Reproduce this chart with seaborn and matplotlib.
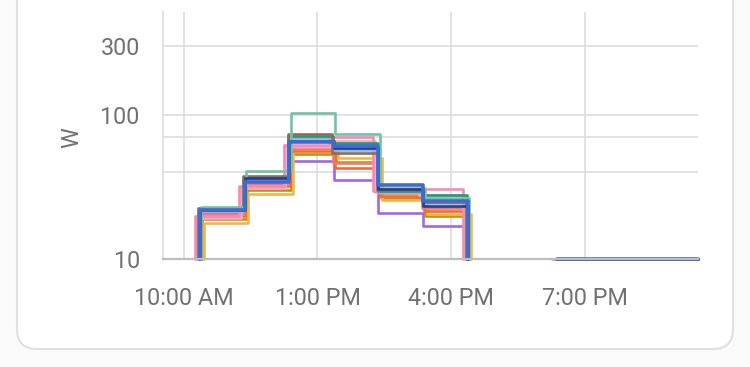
import numpy as np
import pandas as pd
import matplotlib
matplotlib.use("Agg")
import matplotlib.pyplot as plt
import seaborn as sns
from matplotlib.patches import FancyBboxPatch
from matplotlib.transforms import IdentityTransform
from matplotlib.ticker import FixedLocator, FixedFormatter, NullLocator

sns.set_theme(style="white")
plt.rcParams["font.family"] = ["Roboto", "DejaVu Sans"]

# ---------------- data ----------------
# hourly power (W) per panel, from the first daytime hour; a 0 reading after the last hour
day_hours = [10, 11, 12, 13, 14, 15, 16]
evening_hours = [18, 19, 20, 21]
window_start = 9 + 32 / 60          # 9:32 AM
window_end = 21 + 32 / 60           # 9:32 PM

series_names = ["purple", "gold", "yellow", "orange", "salmon", "light_pink", "pink",
                "light_blue", "green", "brown", "mint", "navy", "blue"]
series_colors = ["#a066e6", "#c98f0b", "#f2b44c", "#f26c32", "#f07b6b", "#f6a8c8", "#f28bb6",
                 "#8cb2ea", "#1e9e73", "#8d6e55", "#72c2a8", "#223f8e", "#3f6bd0"]
offset_minutes = [22, 25, 27, 23, 21, 17, 15, 20, 21, 20, 24, 22, 22]

purple = [21.0, 34.0, 47.5, 35.5, 20.8, 17.0, 0]
gold = [19.0, 30.0, 53.7, 47.0, 26.5, 20.0, 0]
yellow = [17.9, 28.2, 60.3, 50.1, 25.8, 20.6, 0]
orange = [20.0, 32.0, 55.7, 42.7, 27.5, 21.7, 0]
salmon = [20.5, 33.0, 58.0, 46.0, 28.7, 22.6, 0]
light_pink = [19.2, 31.0, 60.5, 66.0, 29.0, 28.0, 0]
pink = [20.0, 31.9, 62.0, 70.6, 29.5, 30.6, 0]
light_blue = [21.5, 36.0, 69.0, 57.3, 29.0, 24.5, 0]
green = [22.3, 37.0, 71.0, 63.6, 29.5, 27.9, 0]
brown = [22.5, 37.9, 73.5, 54.3, 30.2, 25.0, 0]
mint = [23.1, 40.5, 103.0, 73.5, 31.0, 26.5, 0]
navy = [21.9, 36.4, 66.0, 58.5, 30.5, 23.4, 0]
blue = [21.9, 34.5, 64.7, 60.3, 32.7, 25.1, 0]
evening_values = [0, 0, 0, 0]

series_values = [purple, gold, yellow, orange, salmon, light_pink, pink,
                 light_blue, green, brown, mint, navy, blue]

y_ticks = [10, 40, 70, 100, 300]
y_tick_labels = ["10", "", "", "100", "300"]
x_ticks = [10, 13, 16, 19]
x_tick_labels = ["10:00 AM", "1:00 PM", "4:00 PM", "7:00 PM"]
y_min, y_max = 10, 510

# ---------------- figure ----------------
W, H = 750, 367
fig = plt.figure(figsize=(W / 100, H / 100), dpi=100)
fig.patch.set_facecolor("#fafafa")
card = FancyBboxPatch((17, H - 349), 733 - 17, 400,
                      boxstyle="round,pad=0,rounding_size=20",
                      transform=IdentityTransform(), facecolor="white",
                      edgecolor="#e0e0e0", linewidth=1.5, zorder=-10)
fig.patches.append(card)

ax = fig.add_axes([162.7 / W, 1 - 259.3 / H, (698.4 - 162.7) / W, (259.3 - 12.3) / H])
ax.set_facecolor("none")
ax.set_zorder(1)
ax.set_yscale("log")

grid_c = "#dddddd"
text_c = "#717171"

for name, col, off, vals in zip(series_names, series_colors, offset_minutes, series_values):
    lw = 2.6 if name == "blue" else 1.9
    t0 = off / 60
    # daytime block, starting with a rise from the floor
    xs = [day_hours[0] + t0] + [h + t0 for h in day_hours]
    ys = [0] + list(vals)
    df = pd.DataFrame({"t": xs, "w": np.clip(ys, y_min, None)})
    sns.lineplot(data=df, x="t", y="w", ax=ax, estimator=None, sort=False,
                 drawstyle="steps-post", color=col, linewidth=lw, clip_on=False)
    # evening block at the floor, held until the end of the window
    xe = [h + t0 for h in evening_hours] + [window_end]
    ye = evening_values + [evening_values[-1]]
    de = pd.DataFrame({"t": xe, "w": np.clip(ye, y_min, None)})
    sns.lineplot(data=de, x="t", y="w", ax=ax, estimator=None, sort=False,
                 drawstyle="steps-post", color=col, linewidth=lw, clip_on=False)

ax.set_xlim(window_start, window_end)
ax.set_ylim(y_min, y_max)

ax.yaxis.set_major_locator(FixedLocator(y_ticks))
ax.yaxis.set_major_formatter(FixedFormatter(y_tick_labels))
ax.yaxis.set_minor_locator(NullLocator())
ax.xaxis.set_major_locator(FixedLocator(x_ticks))
ax.xaxis.set_major_formatter(FixedFormatter(x_tick_labels))

ax.set_axisbelow(True)
ax.grid(True, which="major", color=grid_c, linewidth=1.2)
ax.tick_params(axis="both", which="major", direction="out", length=11.5, width=1.2,
               color=grid_c, labelcolor=text_c, labelsize=16.8)
ax.tick_params(axis="y", pad=5.0)
ax.tick_params(axis="x", pad=8.5)

for s in ["top", "right"]:
    ax.spines[s].set_visible(False)
ax.spines["left"].set_color(grid_c)
ax.spines["left"].set_linewidth(1.2)
ax.spines["bottom"].set_color("#bdbdbd")
ax.spines["bottom"].set_linewidth(1.6)

ax.set_xlabel("")
ax.set_ylabel("W", fontsize=16.8, color=text_c)
ax.yaxis.label.set_va("center")
ax.yaxis.set_label_coords((71.5 - 162.7) / (698.4 - 162.7), (259.3 - 137.5) / (259.3 - 12.3))

fig.savefig("out.png", dpi=100, facecolor=fig.get_facecolor())
